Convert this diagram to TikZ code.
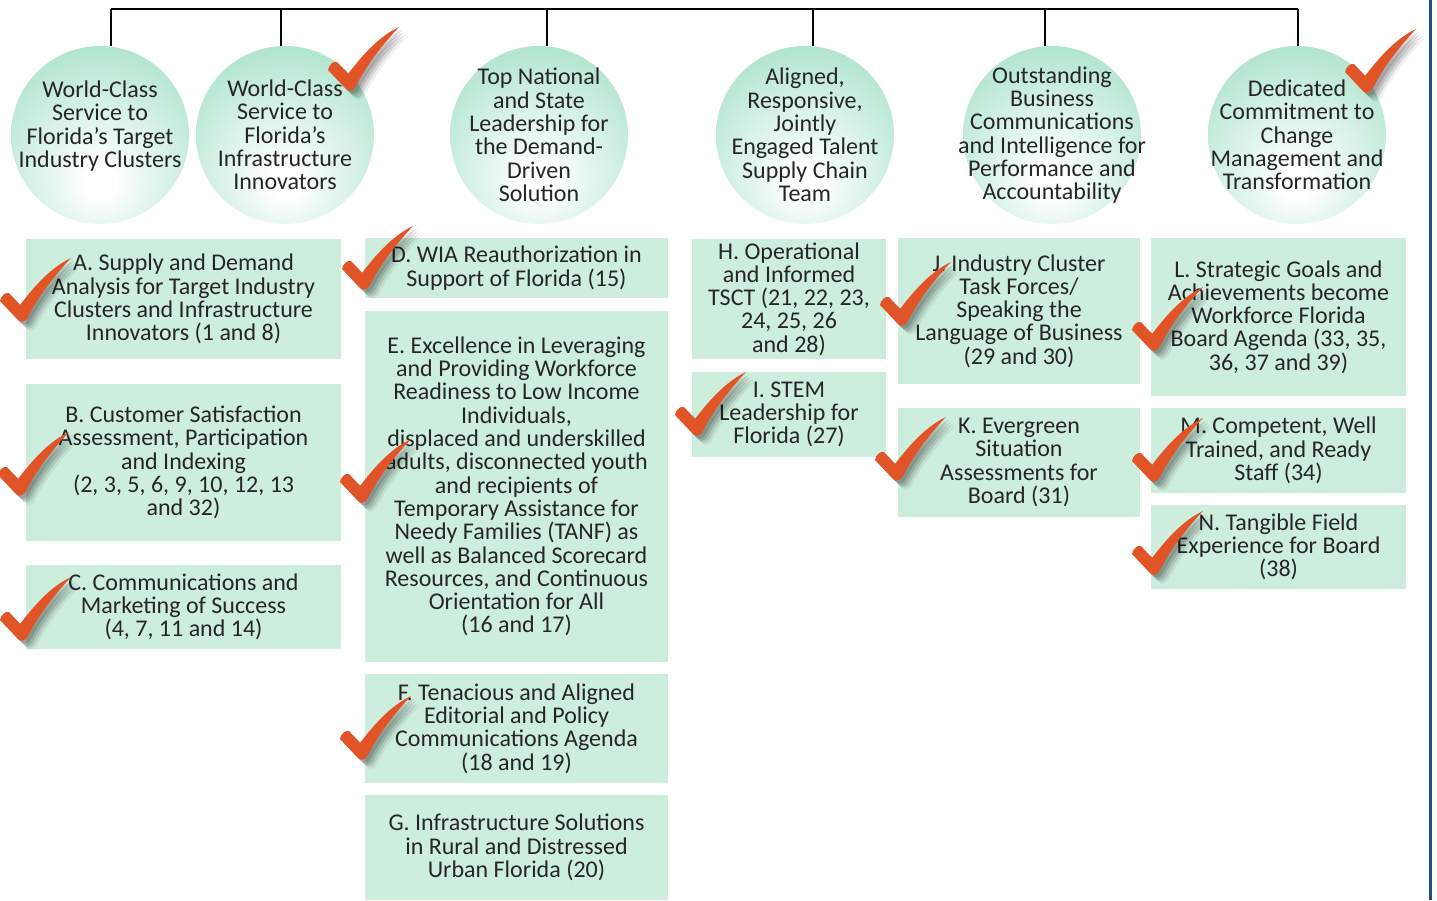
\documentclass[tikz,border=0pt]{standalone}
\usepackage{fontspec}
\setmainfont{Carlito}
\usepackage{tikz}

\definecolor{boxmint}{RGB}{205,237,221}
\definecolor{ballmint}{RGB}{178,229,206}
\definecolor{ticked}{RGB}{224,84,40}
\definecolor{inkgray}{RGB}{38,38,38}
\definecolor{edgeblue}{RGB}{31,78,133}

\pgfdeclareradialshading{ballshade}{\pgfpoint{0bp}{-14bp}}{color(0bp)=(white); color(4bp)=(white); color(34bp)=(ballmint); color(100bp)=(ballmint)}

\newcommand{\chkpath}{(-20,-18) .. controls (-19,-23) and (-15,-27) .. (-11,-26) -- (0,-14) .. controls (16,-35) and (32,-52) .. (51,-61) .. controls (36,-45) and (19,-24) .. (8,-2) .. controls (6,3) and (0,4) .. (-2,1) -- cycle}

\tikzset{
  chk/.pic={
    \foreach \s/\o in {3/.14,5/.12,7/.10,9/.06}
      \fill[black, opacity=\o, shift={(\s,\s)}] \chkpath;
    \fill[ticked] \chkpath;
  },
  ball/.style={circle, minimum size=178, inner sep=0, shading=ballshade},
  goal/.style={rectangle, fill=boxmint, inner sep=0, align=center},
  colA/.style={goal, minimum width=315},
  colD/.style={goal, minimum width=303},
  colH/.style={goal, minimum width=194},
  colJ/.style={goal, minimum width=242},
  colL/.style={goal, minimum width=255},
  bus/.style={line width=2pt, black}
}

\begin{document}
\begin{tikzpicture}[x=1pt, y=-1pt, every node/.style={font=\fontsize{24}{23.3}\selectfont, text=inkgray, align=center}]
        \useasboundingbox (0,0) rectangle (1437,900);

        % outcome circles
        \node[ball] (c1) at (100,135) {};
        \node[ball] (c2) at (285,135) {};
        \node[ball] (c3) at (539,135) {};
        \node[ball] (c4) at (805,135) {};
        \node[ball] (c5) at (1052,135) {};
        \node[ball] (c6) at (1297,135) {};

        \node at (100,126) {World-Class\\Service to\\Florida’s Target\\Industry Clusters};
        \node at (c2) {World-Class\\Service to\\Florida’s\\Infrastructure\\Innovators};
        \node at (c3) {Top National\\and State\\Leadership for\\the Demand-\\Driven\\Solution};
        \node at (c4) {Aligned,\\Responsive,\\Jointly\\Engaged Talent\\Supply Chain\\Team};
        \node at (c5) {Outstanding\\Business\\Communications\\and Intelligence for\\Performance and\\Accountability};
        \node at (c6) {Dedicated\\Commitment to\\Change\\Management and\\Transformation};

        % top bus
        \coordinate (t1) at (111,9);
        \coordinate (t2) at (281,9);
        \coordinate (t3) at (547,9);
        \coordinate (t4) at (813,9);
        \coordinate (t5) at (1045,9);
        \coordinate (t6) at (1298,9);
        \draw[bus] (t1) -- (t6);
        \foreach \i in {1,...,6}
            \draw[bus] (t\i) -- (t\i |- c\i.north);

        % goal boxes
        \node[colA, minimum height=120] (A) at (183.5,299) {A. Supply and Demand\\Analysis for Target Industry\\Clusters and Infrastructure\\Innovators (1 and 8)};
        \node[colA, minimum height=157] (B) at (183.5,462.5) {B. Customer Satisfaction\\Assessment, Participation\\and Indexing\\(2, 3, 5, 6, 9, 10, 12, 13\\and 32)};
        \node[colA, minimum height=84] (C) at (183.5,607) {C. Communications and\\Marketing of Success\\(4, 7, 11 and 14)};

        \node[colD, minimum height=60] (D) at (516.5,268) {D. WIA Reauthorization in\\Support of Florida (15)};
        \node[colD, minimum height=351] (E) at (516.5,486.5) {E. Excellence in Leveraging\\and Providing Workforce\\Readiness to Low Income\\Individuals,\\displaced and underskilled\\adults, disconnected youth\\and recipients of\\Temporary Assistance for\\Needy Families (TANF) as\\well as Balanced Scorecard\\Resources, and Continuous\\Orientation for All\\(16 and 17)};
        \node[colD, minimum height=109] (F) at (516.5,728.5) {F. Tenacious and Aligned\\Editorial and Policy\\Communications Agenda\\(18 and 19)};
        \node[colD, minimum height=105] (G) at (516.5,847.5) {G. Infrastructure Solutions\\in Rural and Distressed\\Urban Florida (20)};

        \node[colH, minimum height=120] (H) at (789,299) {H. Operational\\and Informed\\TSCT (21, 22, 23,\\24, 25, 26\\and 28)};
        \node[colH, minimum height=85] (I) at (789,414.5) {I. STEM\\Leadership for\\Florida (27)};

        \node[colJ, minimum height=146] (J) at (1019,311) {J. Industry Cluster\\Task Forces/\\Speaking the\\Language of Business\\(29 and 30)};
        \node[colJ, minimum height=109] (K) at (1019,462.5) {K. Evergreen\\Situation\\Assessments for\\Board (31)};

        \node[colL, minimum height=158] (L) at (1278.5,317) {L. Strategic Goals and\\Achievements become\\Workforce Florida\\Board Agenda (33, 35,\\36, 37 and 39)};
        \node[colL, minimum height=85] (M) at (1278.5,450.5) {M. Competent, Well\\Trained, and Ready\\Staff (34)};
        \node[colL, minimum height=84] (N) at (1278.5,547) {N. Tangible Field\\Experience for Board\\(38)};

        % check marks
        \foreach \p in {(348,88), (1365,90), (20,319), (18,493), (20,638), (362,287), (360,500), (360,757), (695,433), (900,323), (895,478), (1152,348), (1152,479), (1152,572)}
            \pic at \p {chk};

        \draw[line width=3pt, edgeblue] (1430,0) -- (1430,900);
\end{tikzpicture}
\end{document}
